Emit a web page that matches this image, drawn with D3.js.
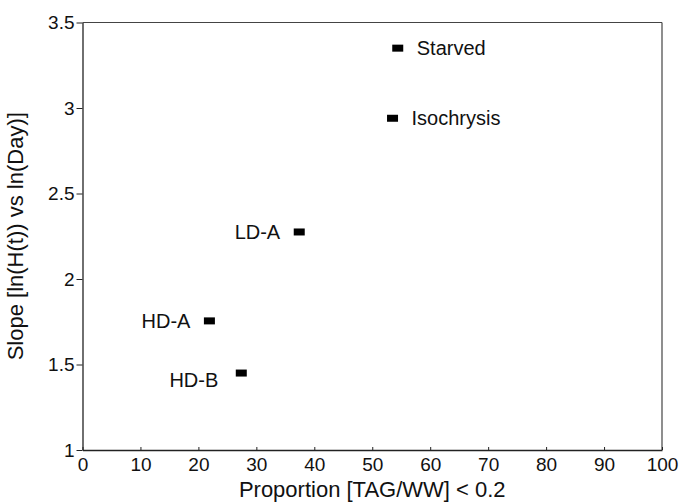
<!DOCTYPE html>
<html>
<head>
<meta charset="utf-8">
<script src="https://cdn.jsdelivr.net/npm/d3@7"></script>
<style>
  html, body { margin: 0; padding: 0; background: #fff; }
  svg { display: block; }
  text { font-family: "Liberation Sans", Arial, Helvetica, sans-serif; fill: #111; }
</style>
</head>
<body>
<svg id="chart" width="680" height="502"></svg>
<script>
// Treatment groups and their measured values
const groups = ["Starved", "Isochrysis", "LD-A", "HD-A", "HD-B"];
const proportion = [54.4, 53.5, 37.4, 21.9, 27.4];   // % with TAG/WW < 0.2
const slope = [3.35, 2.94, 2.275, 1.755, 1.45];      // slope of ln(H(t)) vs ln(Day)
const labelSide = ["right", "right", "left", "left", "left"];

const xTicks = [0, 10, 20, 30, 40, 50, 60, 70, 80, 90, 100];
const yTicks = [1, 1.5, 2, 2.5, 3, 3.5];

const margin = { left: 82.5, right: 18, top: 22.5, bottom: 52 };
const W = 680, H = 502;
const svg = d3.select("#chart");

const x = d3.scaleLinear().domain([0, 100]).range([margin.left, W - margin.right]);
const y = d3.scaleLinear().domain([1, 3.5]).range([H - margin.bottom, margin.top]);

// Top and right frame lines
svg.append("line")
  .attr("x1", x(0)).attr("x2", x(100)).attr("y1", y(3.5)).attr("y2", y(3.5))
  .attr("stroke", "#444").attr("stroke-width", 1.2);
svg.append("line")
  .attr("x1", x(100)).attr("x2", x(100)).attr("y1", y(3.5)).attr("y2", y(1))
  .attr("stroke", "#444").attr("stroke-width", 1.2);

// Bottom axis with inward ticks
const xAxis = svg.append("g")
  .attr("transform", `translate(0,${y(1)})`)
  .call(d3.axisBottom(x).tickValues(xTicks).tickFormat(d3.format("d"))
    .tickSizeInner(-3).tickSizeOuter(0).tickPadding(8));
xAxis.select(".domain").attr("stroke", "#222").attr("stroke-width", 1.3);
xAxis.selectAll(".tick line").attr("stroke", "#222");
xAxis.selectAll(".tick text").attr("font-size", 19).attr("fill", "#111")
  .attr("font-family", "'Liberation Sans', Arial, sans-serif");

// Left axis with outward ticks
const yAxis = svg.append("g")
  .attr("transform", `translate(${x(0)},0)`)
  .call(d3.axisLeft(y).tickValues(yTicks).tickFormat(d3.format("~g"))
    .tickSizeInner(6).tickSizeOuter(0).tickPadding(2));
yAxis.select(".domain").attr("stroke", "#222").attr("stroke-width", 1.3);
yAxis.selectAll(".tick line").attr("stroke", "#222");
yAxis.selectAll(".tick text").attr("font-size", 19).attr("fill", "#111")
  .attr("font-family", "'Liberation Sans', Arial, sans-serif");

// Axis titles
svg.append("text")
  .attr("x", (x(0) + x(100)) / 2).attr("y", 497)
  .attr("text-anchor", "middle").attr("font-size", 22)
  .text("Proportion [TAG/WW] < 0.2");
svg.append("text")
  .attr("transform", `translate(23,${(y(1) + y(3.5)) / 2}) rotate(-90)`)
  .attr("text-anchor", "middle").attr("font-size", 22)
  .text("Slope [ln(H(t)) vs ln(Day)]");

// Data points as small filled rectangles
const pts = groups.map((g, i) => ({ g, px: proportion[i], s: slope[i], side: labelSide[i] }));
svg.append("g").selectAll("rect").data(pts).join("rect")
  .attr("x", d => x(d.px) - 5.5).attr("y", d => y(d.s) - 3.5)
  .attr("width", 11).attr("height", 7).attr("fill", "#000");

// Point labels
svg.append("g").selectAll("text").data(pts).join("text")
  .attr("x", d => d.side === "right" ? x(d.px) + 19 : x(d.px) - 19 - (d.g === "HD-B" ? 4 : 0))
  .attr("y", d => y(d.s) + (d.g === "HD-B" ? 14 : 7))
  .attr("text-anchor", d => d.side === "right" ? "start" : "end")
  .attr("font-size", 20)
  .text(d => d.g);
</script>
</body>
</html>
